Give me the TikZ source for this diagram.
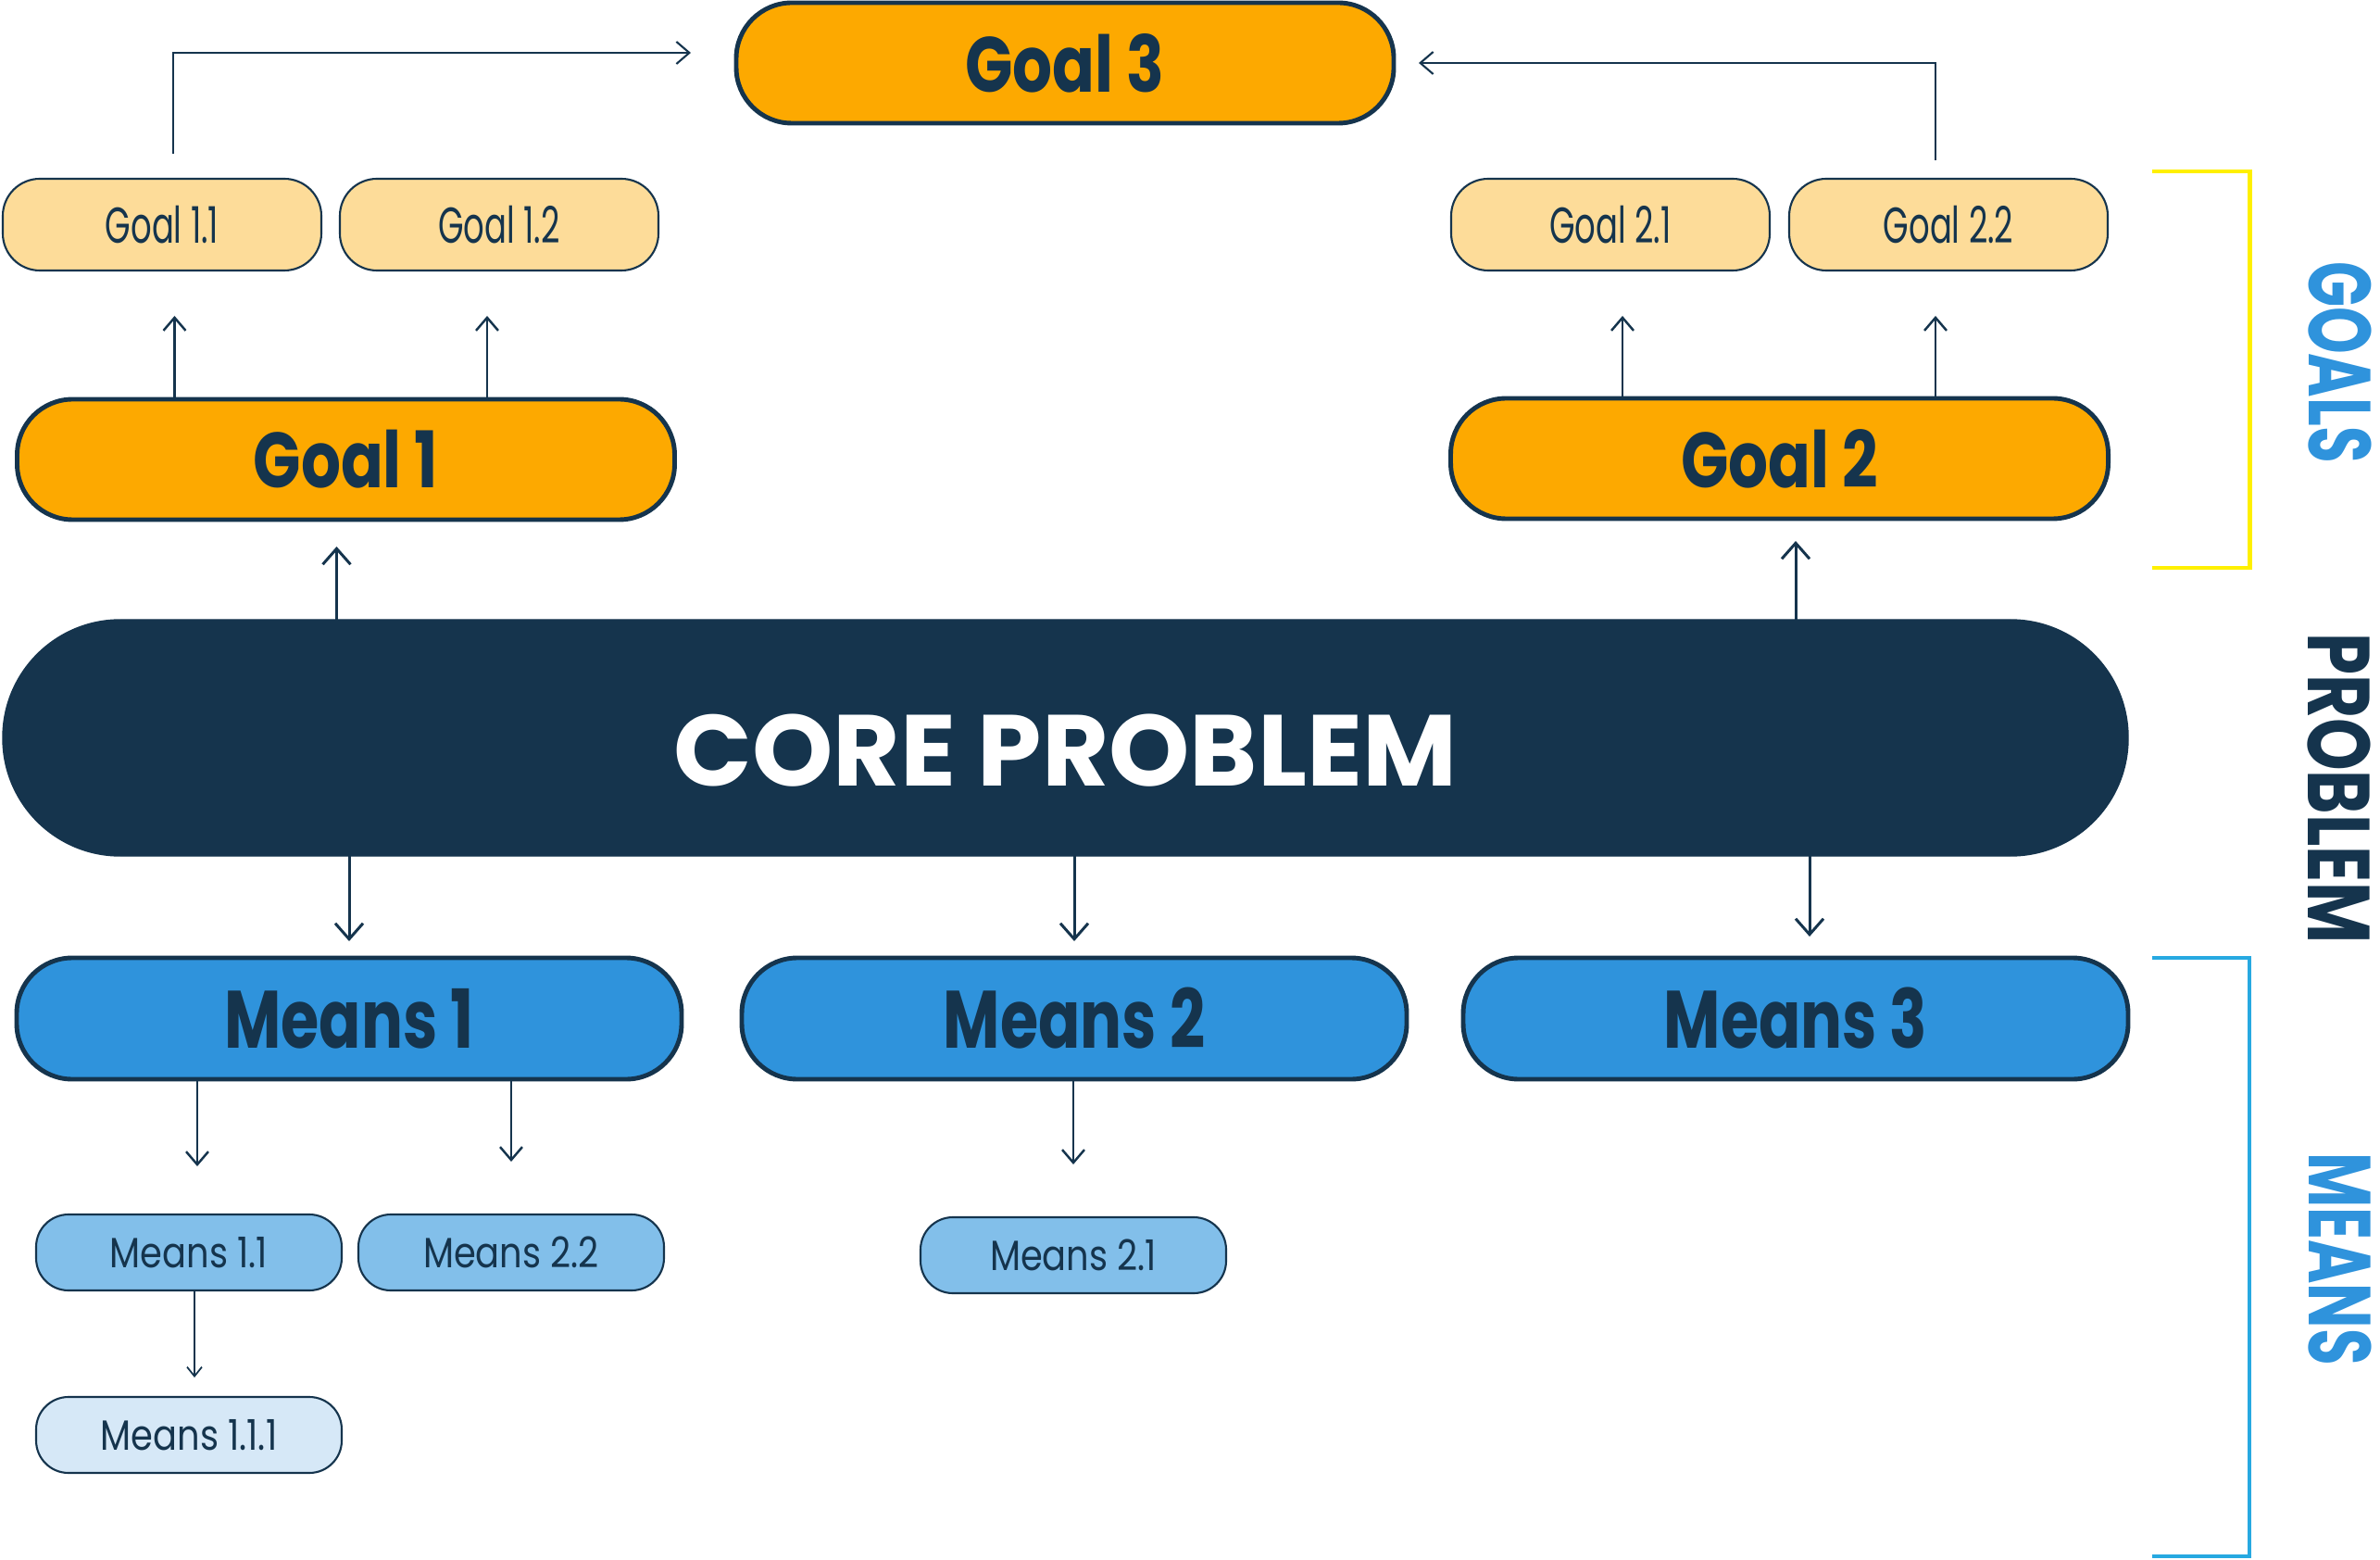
\documentclass[tikz,border=0pt]{standalone}
\usepackage{fontspec}
\setmainfont{Poppins}
\newfontfamily\headfont[FakeStretch=0.8]{Poppins}
\newfontfamily\meansfont[FakeStretch=0.76]{Poppins}
\newfontfamily\corefont[FakeStretch=1.02]{Poppins}
\newfontfamily\goalsubfont[FakeStretch=0.65]{Poppins}
\newfontfamily\meanssubfont[FakeStretch=0.84]{Poppins}
\newfontfamily\sidefont[FakeStretch=0.68]{Poppins}
\newfontfamily\problemfont[FakeStretch=0.76]{Poppins}
\usepackage{tikz}
\usetikzlibrary{arrows.meta,positioning}
\definecolor{navy}{HTML}{15344D}
\definecolor{goalorange}{HTML}{FDA900}
\definecolor{goallight}{HTML}{FDDC99}
\definecolor{meansblue}{HTML}{2F93DC}
\definecolor{meanslight}{HTML}{82BFEA}
\definecolor{meanspale}{HTML}{D6E8F7}
\definecolor{goalsyellow}{HTML}{FFF000}
\definecolor{meansline}{HTML}{27A9E1}

\begin{document}
\begin{tikzpicture}[>=Straight Barb]
    \tikzset{bigbox/.style={rectangle, draw=navy, line width=1.4pt, rounded corners=0.6cm, minimum width=7.1cm, minimum height=1.3cm, inner sep=0pt, outer sep=0pt, text=navy, font=\headfont\bfseries\fontsize{24pt}{28pt}\selectfont},
        goalbig/.style={bigbox, fill=goalorange},
        meansbig/.style={bigbox, fill=meansblue, minimum width=7.18cm, minimum height=1.31cm, font=\meansfont\bfseries\fontsize{25pt}{29pt}\selectfont},
        subgoal/.style={rectangle, draw=navy, line width=0.6pt, rounded corners=0.4cm, minimum width=3.44cm, minimum height=0.99cm, inner sep=0pt, outer sep=0pt, fill=goallight, text=navy, font=\goalsubfont\fontsize{15.5pt}{18pt}\selectfont},
        submeans/.style={rectangle, draw=navy, line width=0.6pt, rounded corners=0.35cm, minimum width=3.3cm, minimum height=0.82cm, inner sep=0pt, outer sep=0pt, fill=meanslight, text=navy, font=\meanssubfont\fontsize{13pt}{16pt}\selectfont},
        arr/.style={-{Straight Barb[length=1.4mm,width=2.4mm]}, navy, line width=0.7pt},
        bigarr/.style={-{Straight Barb[length=1.7mm,width=3mm]}, navy, line width=0.85pt},
        sidelabel/.style={rotate=-90, font=\sidefont\bfseries\fontsize{27pt}{30pt}\selectfont}}
    \useasboundingbox (0,0) rectangle (25.7,-16.84);

    % problem and goals
    \node[rectangle, draw=navy, fill=navy, rounded corners=1.27cm, minimum width=22.95cm, minimum height=2.55cm, inner sep=0pt, outer sep=0pt, text height=1.05cm, text depth=0pt, text=white, font=\corefont\bfseries\fontsize{31pt}{35pt}\selectfont] (core) at (11.505,-7.965) {CORE PROBLEM};
    \node[goalbig] (goal1) at (3.735,-4.96) {Goal 1};
    \node[goalbig] (goal2) at (19.215,-4.95) {Goal 2};
    \node[goalbig] (goal3) at (11.5,-0.68) {Goal 3};
    \node[subgoal] (goal11) at (1.75,-2.425) {Goal 1.1};
    \node[subgoal, right=0.2cm of goal11] (goal12) {Goal 1.2};
    \node[subgoal] (goal21) at (17.39,-2.425) {Goal 2.1};
    \node[subgoal, right=0.21cm of goal21] (goal22) {Goal 2.2};

    % means
    \node[meansbig] (means1) at (3.77,-10.995) {Means 1};
    \node[meansbig, right=0.65cm of means1] (means2) {Means 2};
    \node[meansbig, right=0.61cm of means2] (means3) {Means 3};
    \node[submeans] (means11) at (2.04,-13.52) {Means 1.1};
    \node[submeans, right=0.18cm of means11] (means22) {Means 2.2};
    \node[submeans] (means21) at (11.59,-13.55) {Means 2.1};
    \node[submeans, below=1.15cm of means11, fill=meanspale] (means111) {Means 1.1.1};

    % arrows up
    \draw[bigarr, shorten >=0.29cm] ([xshift=-0.1cm]goal1.south |- core.north) -- ([xshift=-0.1cm]goal1.south);
    \draw[bigarr, shorten >=0.24cm] ([xshift=0.175cm]goal2.south |- core.north) -- ([xshift=0.175cm]goal2.south);
    \draw[arr, shorten >=0.49cm] ([xshift=0.135cm]goal11.south |- goal1.north) -- ([xshift=0.135cm]goal11.south);
    \draw[arr, shorten >=0.49cm] ([xshift=-0.13cm]goal12.south |- goal1.north) -- ([xshift=-0.13cm]goal12.south);
    \draw[arr, shorten >=0.49cm] ([xshift=0.13cm]goal21.south |- goal2.north) -- ([xshift=0.13cm]goal21.south);
    \draw[arr, shorten >=0.49cm] ([xshift=-0.14cm]goal22.south |- goal2.north) -- ([xshift=-0.14cm]goal22.south);
    \draw[arr, line width=0.6pt, shorten <=0.27cm, shorten >=0.49cm] ([xshift=0.12cm]goal11.north) |- ([yshift=0.11cm]goal3.west);
    \draw[arr, line width=0.6pt, shorten <=0.2cm, shorten >=0.27cm] ([xshift=-0.14cm]goal22.north) |- (goal3.east);

    % arrows down
    \draw[bigarr, shorten >=0.18cm] (means1.north |- core.south) -- (means1.north);
    \draw[bigarr, shorten >=0.18cm] (means2.north |- core.south) -- (means2.north);
    \draw[bigarr, shorten >=0.23cm] ([xshift=0.15cm]means3.north |- core.south) -- ([xshift=0.15cm]means3.north);
    \draw[arr, shorten >=0.52cm] ([xshift=0.09cm]means11.north |- means1.south) -- ([xshift=0.09cm]means11.north);
    \draw[arr, shorten >=0.57cm] (means22.north |- means1.south) -- (means22.north);
    \draw[arr, shorten >=0.57cm] (means21.north |- means2.south) -- (means21.north);
    \draw[-{Straight Barb[length=1mm,width=1.6mm]}, navy, line width=0.5pt, shorten >=0.21cm] ([xshift=0.06cm]means11.south) -- ([xshift=0.06cm]means111.north);

    % side brackets
    \draw[goalsyellow, line width=1.4pt] (23.24,-1.85) -- (24.29,-1.85) -- (24.29,-6.13) -- (23.24,-6.13);
    \draw[meansline, line width=0.9pt] (23.24,-10.34) -- (24.29,-10.34) -- (24.29,-16.8) -- (23.24,-16.8);
    \node[sidelabel, text=meansblue] (goalslabel) at (25.27,-3.91) {GOALS};
    \node[sidelabel, text=navy, font=\problemfont\bfseries\fontsize{27pt}{30pt}\selectfont] (problemlabel) at (25.26,-8.51) {PROBLEM};
    \node[sidelabel, text=meansblue] (meanslabel) at (25.27,-13.59) {MEANS};
\end{tikzpicture}
\end{document}
